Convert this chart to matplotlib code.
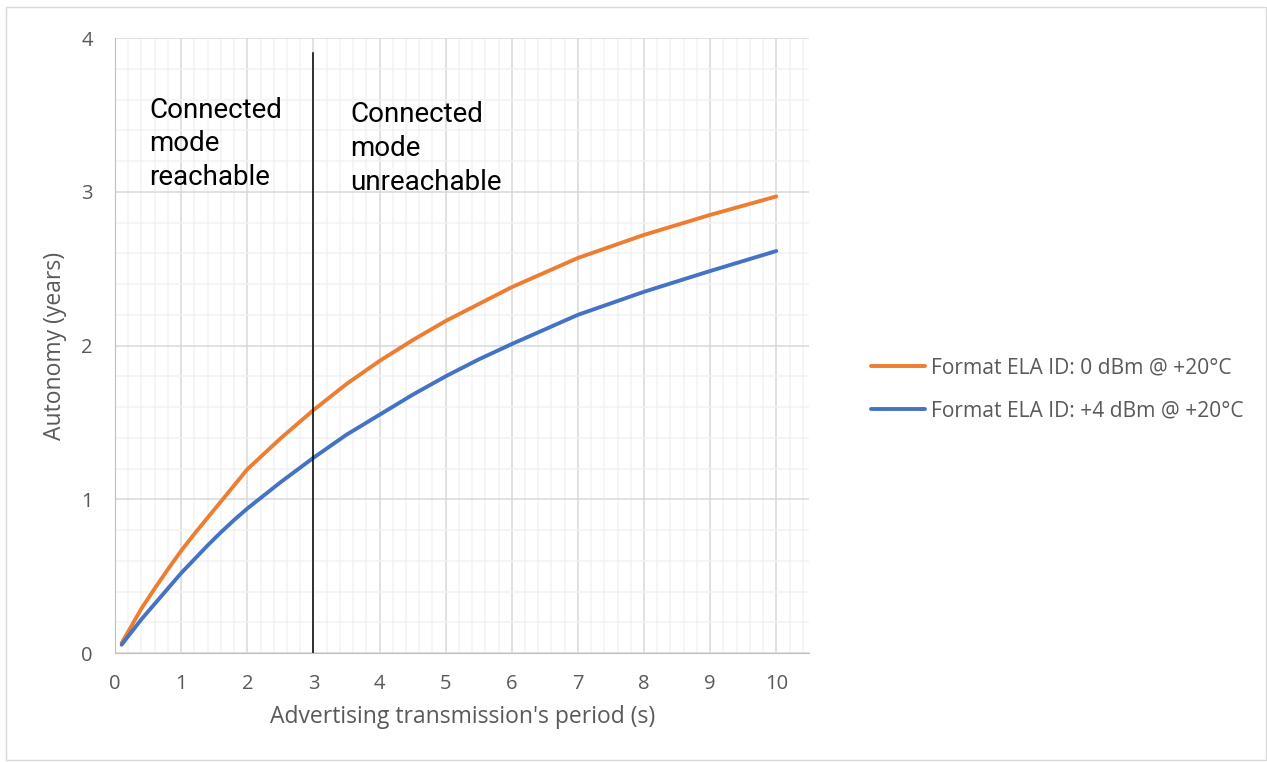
import matplotlib.pyplot as plt
from matplotlib.patches import Rectangle
from matplotlib.ticker import MultipleLocator

# values
period_0dbm = [0.1, 0.2, 0.4, 0.6, 0.8, 1.0, 1.2, 1.4, 1.6, 1.8, 2.0, 2.5, 3.0,
               3.5, 4.0, 4.5, 5.0, 5.5, 6.0, 7, 8, 9, 10]
autonomy_0dbm = [0.065, 0.14, 0.29, 0.42, 0.545, 0.665, 0.775, 0.88, 0.985, 1.09, 1.195, 1.395, 1.58,
                 1.75, 1.90, 2.035, 2.16, 2.27, 2.38, 2.57, 2.72, 2.85, 2.97]
period_4dbm = [0.1, 0.2, 0.4, 0.6, 0.8, 1.0, 1.2, 1.4, 1.6, 1.8, 2.0, 2.5, 3.0,
               3.5, 4.0, 4.5, 5.0, 5.5, 6.0, 7, 8, 9, 10]
autonomy_4dbm = [0.054, 0.11, 0.22, 0.32, 0.42, 0.52, 0.61, 0.70, 0.785, 0.865, 0.94, 1.11, 1.27,
                 1.42, 1.55, 1.68, 1.80, 1.91, 2.01, 2.20, 2.35, 2.485, 2.615]
labels = ["Format ELA ID: 0 dBm @ +20°C", "Format ELA ID: +4 dBm @ +20°C"]
limit_x = 3

text_grey = "#595959"

fig = plt.figure(figsize=(12.67, 7.62), dpi=100)
fig.patches.append(Rectangle((0.005, 0.003), 0.994, 0.988, transform=fig.transFigure,
                             fill=False, edgecolor="#D9D9D9", linewidth=1))
ax = fig.add_axes([0.0908, 0.143, 0.548, 0.807])

l1, = ax.plot(period_0dbm, autonomy_0dbm, color="#ED7D31", linewidth=2.8,
              solid_capstyle="round", solid_joinstyle="round")
l2, = ax.plot(period_4dbm, autonomy_4dbm, color="#4472C4", linewidth=2.8,
              solid_capstyle="round", solid_joinstyle="round")
ax.plot([limit_x, limit_x], [0, 3.9], color="black", linewidth=1.1)

ax.set_xlim(0, 10.5)
ax.set_ylim(0, 4)
ax.xaxis.set_major_locator(MultipleLocator(1))
ax.xaxis.set_minor_locator(MultipleLocator(0.2))
ax.yaxis.set_major_locator(MultipleLocator(1))
ax.yaxis.set_minor_locator(MultipleLocator(0.2))
ax.grid(which="major", color="#D9D9D9", linewidth=1.1)
ax.grid(which="minor", color="#F2F2F2", linewidth=1.1)
ax.set_axisbelow(True)
for s in ["top", "right"]:
    ax.spines[s].set_visible(False)
for s in ["left", "bottom"]:
    ax.spines[s].set_color("#BFBFBF")
ax.tick_params(which="both", length=0, labelsize=14.5, labelcolor=text_grey)
ax.tick_params(axis="x", pad=15)
ax.tick_params(axis="y", pad=16)
for t in ax.get_xticklabels() + ax.get_yticklabels():
    t.set_fontfamily("Open Sans")

ax.set_xlabel("Advertising transmission's period (s)", fontsize=16.5, color=text_grey,
              family="Open Sans", labelpad=8)
ax.set_ylabel("Autonomy (years)", fontsize=16.5, color=text_grey, family="Open Sans", labelpad=10)

ax.text(0.52, 3.62, "Connected\nmode\nreachable", fontsize=20, family="Roboto",
        va="top", ha="left", linespacing=1.33)
ax.text(3.56, 3.59, "Connected\nmode\nunreachable", fontsize=20, family="Roboto",
        va="top", ha="left", linespacing=1.33)

fig.legend([l1, l2], labels, loc="center left", bbox_to_anchor=(0.6725, 0.489),
           frameon=False, handlelength=2.6, handletextpad=0.25, labelspacing=1.05,
           prop={"family": "Open Sans", "size": 15.1}, labelcolor=text_grey)

plt.savefig("out.png", dpi=100)
